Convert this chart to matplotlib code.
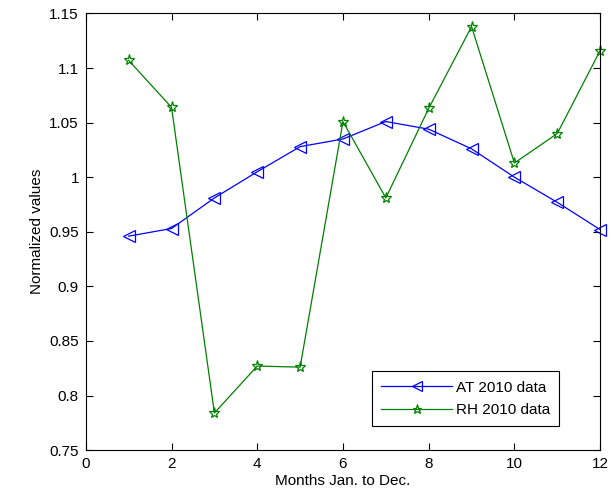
import numpy as np
import matplotlib
matplotlib.use('Agg')
import matplotlib.pyplot as plt
from matplotlib.ticker import FormatStrFormatter

plt.rcParams['font.family'] = ['Liberation Sans', 'DejaVu Sans']
plt.rcParams['font.size'] = 11

months = [1, 2, 3, 4, 5, 6, 7, 8, 9, 10, 11, 12]
at_2010 = [0.946, 0.953, 0.981, 1.005, 1.028, 1.035, 1.051, 1.044, 1.026, 1.000, 0.977, 0.952]
rh_2010 = [1.107, 1.064, 0.784, 0.827, 0.826, 1.051, 0.981, 1.063, 1.138, 1.013, 1.040, 1.116]

fig = plt.figure(figsize=(6.13, 4.99), dpi=100)
ax = fig.add_axes([0.140, 0.098, 0.839, 0.875])

ax.plot(months, at_2010, '-<', color='#0000ff', lw=0.9, ms=9, mfc='none', mew=0.9,
        label='AT 2010 data', clip_on=False)
ax.plot(months, rh_2010, '-*', color='#008000', lw=0.9, ms=8, mfc='none', mew=0.9,
        label='RH 2010 data', clip_on=False)

ax.set_xlim(0, 12)
ax.set_ylim(0.75, 1.15)
ax.set_xticks(np.arange(0, 13, 2))
ax.set_yticks(np.arange(0.75, 1.151, 0.05))
ax.yaxis.set_major_formatter(FormatStrFormatter('%g'))
ax.tick_params(direction='in', top=True, right=True, length=5, width=0.8, pad=5)
for s in ax.spines.values():
    s.set_linewidth(0.8)

ax.set_xlabel('Months Jan. to Dec.', labelpad=2)
ax.set_ylabel('Normalized values', labelpad=4)

leg = ax.legend(loc='lower right', bbox_to_anchor=(0.92, 0.055), fancybox=False,
                edgecolor='black', framealpha=1, borderpad=0.6, handlelength=4.6,
                labelspacing=0.55, handletextpad=0.25, borderaxespad=0.0,
                markerscale=0.85)
leg.get_frame().set_linewidth(0.8)

fig.savefig('out.png', dpi=100)
